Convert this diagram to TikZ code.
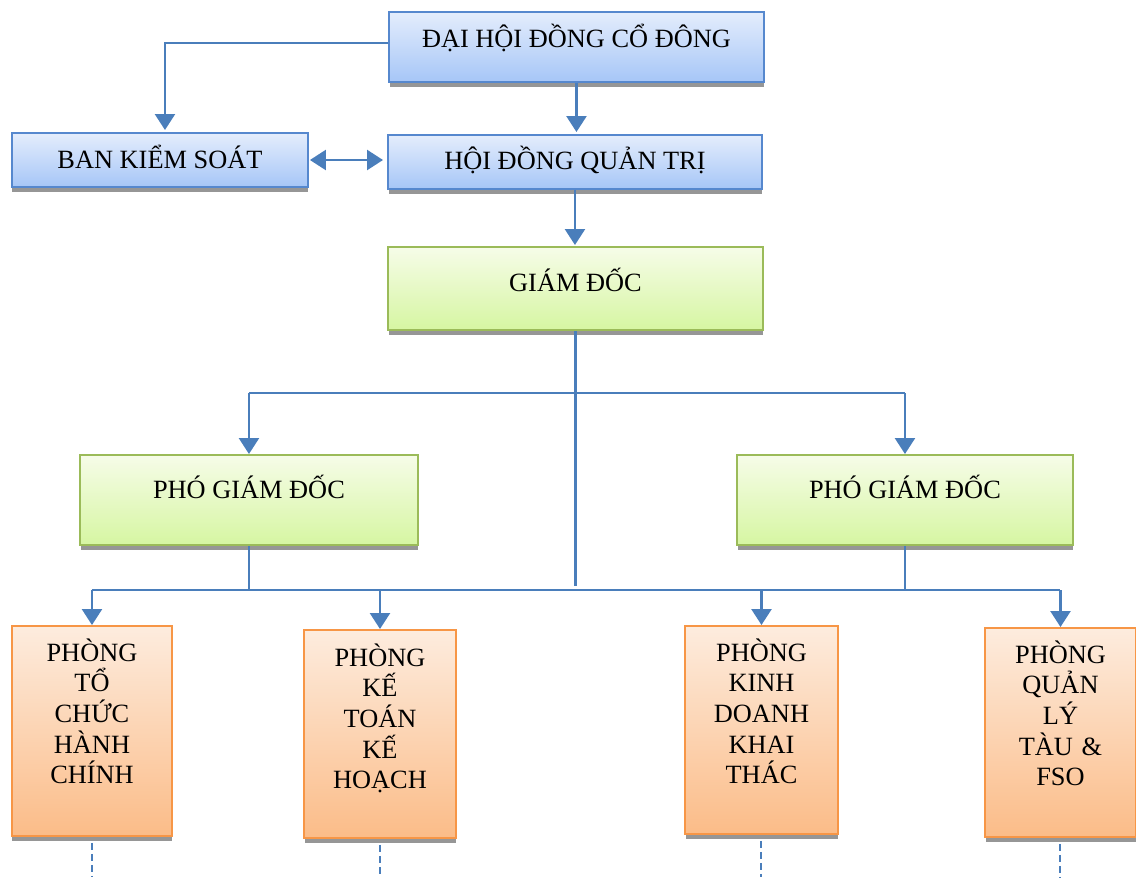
\documentclass[tikz,border=0pt]{standalone}
\usepackage{fontspec}
\setmainfont{Liberation Serif}
\usetikzlibrary{arrows.meta,shadows}
\definecolor{lineblue}{RGB}{74,126,187}
\definecolor{shadowgray}{RGB}{150,150,150}
\definecolor{bluetop}{RGB}{228,237,252}
\definecolor{bluebot}{RGB}{166,198,247}
\definecolor{blueedge}{RGB}{86,136,206}
\definecolor{greentop}{RGB}{246,252,232}
\definecolor{greenbot}{RGB}{214,246,162}
\definecolor{greenedge}{RGB}{155,187,89}
\definecolor{orangetop}{RGB}{253,236,222}
\definecolor{orangebot}{RGB}{251,188,136}
\definecolor{orangeedge}{RGB}{247,150,70}

\begin{document}
\begin{tikzpicture}[x=0.02cm,y=-0.02cm,
  box/.style={anchor=north west,inner ysep=0pt,line width=0.04cm,
    font=\fontsize{15}{17.5}\selectfont,
    drop shadow={shadow xshift=0.01cm,shadow yshift=-0.1cm,opacity=1,fill=shadowgray}},
  bluebox/.style={box,draw=blueedge,top color=bluetop,bottom color=bluebot},
  greenbox/.style={box,draw=greenedge,top color=greentop,bottom color=greenbot},
  dept/.style={box,draw=orangeedge,top color=orangetop,bottom color=orangebot,
    align=center,inner xsep=0pt,text height=0.70cm},
  link/.style={draw=lineblue,line width=0.05cm},
  trail/.style={draw=lineblue,line width=0.04cm,dash pattern=on 0.14cm off 0.08cm},
  >={Triangle[length=0.32cm,width=0.4cm]}]
 \useasboundingbox (0,0) rectangle (1136,877);

 \node[bluebox,minimum width=7.5cm,text height=0.72cm,text depth=0.68cm] (dhdcd) at (388,11) {ĐẠI HỘI ĐỒNG CỔ ĐÔNG};
 \node[bluebox,minimum width=5.92cm,text height=0.70cm,text depth=0.38cm] (bks) at (11,132) {BAN KIỂM SOÁT};
 \node[bluebox,minimum width=7.48cm,text height=0.68cm,text depth=0.40cm] (hdqt) at (387,134) {HỘI ĐỒNG QUẢN TRỊ};
 \node[greenbox,minimum width=7.5cm,text height=0.88cm,text depth=0.78cm] (gd) at (387,246) {GIÁM ĐỐC};
 \node[greenbox,minimum width=6.76cm,text height=0.86cm,text depth=0.94cm] (pgd1) at (79,454) {PHÓ GIÁM ĐỐC};
 \node[greenbox,minimum width=6.72cm,text height=0.86cm,text depth=0.94cm] (pgd2) at (736,454) {PHÓ GIÁM ĐỐC};

 \node[dept,text width=3.2cm,text depth=3.5cm] (p1) at (11,625) {PHÒNG\\TỔ\\CHỨC\\HÀNH\\CHÍNH};
 \node[dept,text width=3.04cm,text height=0.72cm,text depth=3.44cm] (p2) at (303,629) {PHÒNG\\KẾ\\TOÁN\\KẾ\\HOẠCH};
 \node[dept,text width=3.06cm,text depth=3.46cm] (p3) at (684,625) {PHÒNG\\KINH\\DOANH\\KHAI\\THÁC};
 \node[dept,text width=3.02cm,text depth=3.48cm] (p4) at (984,627) {PHÒNG\\QUẢN\\LÝ\\TÀU \&\\FSO};

 \coordinate (split) at (0,393);
 \coordinate (hub) at (0,586);
 \coordinate (bus) at (0,590);
 \coordinate (edge) at (0,877);

 \draw[link,->,shorten >=0.04cm] ([yshift=0.08cm]dhdcd.west) -| ([xshift=0.1cm]bks.north);
 \draw[link,->,shorten >=0.04cm] (dhdcd.south) -- (dhdcd.south |- hdqt.north);
 \draw[link,<->,shorten <=0.02cm,shorten >=0.08cm] (bks.east) -- (bks.east -| hdqt.west);
 \draw[link,->,shorten >=0.02cm] (hdqt.south) -- (hdqt.south |- gd.north);

 \draw[link] (gd.south) -- (gd.south |- hub);
 \draw[link,->] (pgd1.north |- split) -- (pgd1.north);
 \draw[link,->] (pgd2.north |- split) -- (pgd2.north);
 \draw[link] (pgd1.north |- split) -- (pgd2.north |- split);

 \draw[link] (pgd1.south) -- (pgd1.south |- bus);
 \draw[link] (pgd2.south) -- (pgd2.south |- bus);
 \draw[link] (p1.north |- bus) -- (p4.north |- bus);
 \foreach \p in {p1,p2,p3,p4}
   \draw[link,->] (\p.north |- bus) -- (\p.north);
 \foreach \p in {p1,p2,p3,p4}
   \draw[trail,shorten <=0.12cm] (\p.south) -- (\p.south |- edge);
\end{tikzpicture}
\end{document}
